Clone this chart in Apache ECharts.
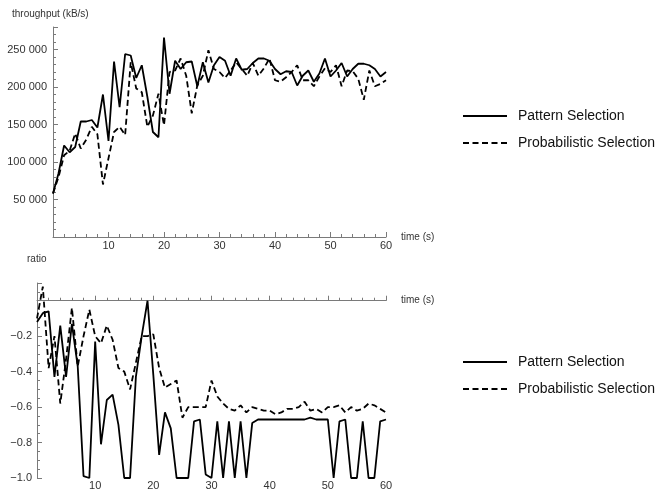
<!DOCTYPE html>
<html lang="en">
<head>
    <meta charset="UTF-8">
    <script src="https://cdn.jsdelivr.net/npm/echarts@6/dist/echarts.min.js"></script>
    <title>Throughput and ratio</title>
</head>
<body style="margin:0">

<div id="chart" style="width: 664px;height: 491px"></div>

<script type="text/javascript">
    // time axis, seconds
    var times = [0,1,2,3,4,5,6,7,8,9,10,11,12,13,14,15,16,17,18,19,20,
        21,22,23,24,25,26,27,28,29,30,31,32,33,34,35,36,37,38,39,40,
        41,42,43,44,45,46,47,48,49,50,51,52,53,54,55,56,57,58,59,60]

    var seriesNames = ['Pattern Selection', 'Probabilistic Selection']

    // throughput (kB/s)
    var patternThroughput = [58000,85000,122000,113000,120000,154000,154000,156000,146000,190000,128000,
        234000,173000,244000,242000,212000,229000,187000,140000,133000,266000,
        191000,235000,224000,233000,234000,201000,233000,206000,229000,240000,
        235000,215000,238000,223000,224000,232000,238000,238000,235000,224000,
        217000,221000,220000,202000,215000,222000,207000,218000,238000,214000,
        222000,232000,214000,224000,231000,231000,229000,224000,214000,220000]

    var probThroughput = [58000,80000,109000,115000,138000,118000,130000,147000,137000,70000,105000,
        140000,147000,136000,233000,198000,193000,147000,162000,191000,149000,
        220000,222000,238000,215000,165000,202000,215000,249000,224000,220000,
        212000,222000,233000,224000,215000,232000,215000,225000,238000,209000,
        207000,213000,220000,229000,209000,209000,201000,214000,225000,220000,
        229000,201000,222000,221000,211000,183000,222000,201000,204000,209000]

    // ratio
    var patternRatio = [-0.12,-0.07,-0.06,-0.43,-0.14,-0.43,-0.13,-0.37,-0.99,-1.0,-0.23,
        -0.81,-0.56,-0.53,-0.70,-1.0,-1.0,-0.43,-0.2,0.0,-0.42,
        -0.87,-0.63,-0.72,-1.0,-1.0,-1.0,-0.68,-0.67,-0.98,-1.0,
        -0.68,-1.0,-0.68,-1.0,-0.68,-1.0,-0.69,-0.67,-0.67,-0.67,
        -0.67,-0.67,-0.67,-0.67,-0.67,-0.67,-0.66,-0.67,-0.67,-0.67,
        -1.0,-0.68,-0.67,-1.0,-1.0,-0.68,-1.0,-1.0,-0.68,-0.67]

    var probRatio = [-0.1,0.08,-0.38,-0.2,-0.58,-0.33,-0.04,-0.37,-0.2,-0.05,-0.2,
        -0.24,-0.14,-0.22,-0.38,-0.40,-0.50,-0.35,-0.2,-0.2,-0.19,
        -0.38,-0.49,-0.47,-0.45,-0.66,-0.6,-0.6,-0.6,-0.6,-0.45,
        -0.54,-0.58,-0.61,-0.62,-0.59,-0.63,-0.6,-0.61,-0.62,-0.62,
        -0.64,-0.63,-0.61,-0.61,-0.6,-0.57,-0.62,-0.61,-0.63,-0.6,
        -0.6,-0.59,-0.63,-0.6,-0.62,-0.61,-0.58,-0.59,-0.61,-0.63]

    function pairs(ys){
        return times.map(function (t, i) { return [t, ys[i]] })
    }

    var font = 'Liberation Sans, Arial, sans-serif'
    var axisGray = '#7a7a7a'
    var textGray = '#333'

    function timeAxis(gridIndex, margin){
        return {
            type: 'value',
            gridIndex: gridIndex,
            min: 0,
            max: 60,
            interval: 10,
            name: 'time (s)',
            nameLocation: 'end',
            nameGap: 15,
            nameTextStyle: {fontSize: 10, color: textGray, fontFamily: font},
            axisLine: {lineStyle: {color: axisGray, width: 1}},
            axisTick: {inside: true, length: 5, lineStyle: {color: axisGray}},
            minorTick: {show: true, splitNumber: 5, length: 3, lineStyle: {color: axisGray}},
            splitLine: {show: false},
            axisLabel: {
                fontSize: 11, color: textGray, fontFamily: font, margin: margin,
                formatter: function (v) { return v === 0 ? '' : String(v) }
            }
        }
    }

    function legendAt(top){
        return {
            orient: 'vertical', left: 457, top: top,
            itemWidth: 44, itemHeight: 14, itemGap: 13,
            data: seriesNames,
            // hide the marker that line series put on the legend line
            itemStyle: {color: 'rgba(0,0,0,0)', borderColor: 'rgba(0,0,0,0)', borderWidth: 0},
            textStyle: {fontSize: 14, color: '#111', fontFamily: font, padding: [0, 0, 0, 6]}
        }
    }

    var myChart = echarts.init(document.getElementById('chart'));
    var option = {
        animation: false,
        backgroundColor: '#fff',
        title: [
            {text: 'throughput (kB/s)', left: 12, top: 9, padding: 0,
                textStyle: {fontSize: 10, fontWeight: 'normal', color: textGray, fontFamily: font}},
            {text: 'ratio', left: 27, top: 254, padding: 0,
                textStyle: {fontSize: 10, fontWeight: 'normal', color: textGray, fontFamily: font}}
        ],
        legend: [legendAt(104), legendAt(350)],
        grid: [
            {left: 53, right: 278, top: 27, bottom: 254},
            {left: 37, right: 278, top: 283, bottom: 6}
        ],
        xAxis: [timeAxis(0, 3), timeAxis(1, 2)],
        yAxis: [
            {
                type: 'value', gridIndex: 0, min: 0, max: 280000, interval: 50000,
                axisLine: {show: true, lineStyle: {color: axisGray}},
                axisTick: {show: true, inside: true, length: 5, lineStyle: {color: axisGray}},
                minorTick: {show: true, splitNumber: 5, length: 3, lineStyle: {color: axisGray}},
                splitLine: {show: false},
                axisLabel: {
                    fontSize: 11, color: textGray, fontFamily: font, margin: 6,
                    formatter: function (v) {
                        if (v === 0 || v % 50000 !== 0) return ''
                        var k = Math.floor(v / 1000)
                        return k + ' 000'
                    }
                }
            },
            {
                type: 'value', gridIndex: 1, min: -1.0, max: 0.1, interval: 0.2,
                axisLine: {show: true, lineStyle: {color: axisGray}},
                axisTick: {show: true, inside: true, length: 5, lineStyle: {color: axisGray}},
                minorTick: {show: true, splitNumber: 4, length: 3, lineStyle: {color: axisGray}},
                splitLine: {show: false},
                axisLabel: {
                    fontSize: 11, color: textGray, fontFamily: font, margin: 5,
                    formatter: function (v) {
                        if (v >= -0.001) return ''
                        if (Math.abs(v * 5 - Math.round(v * 5)) > 1e-6) return ''
                        return '\u2212' + Math.abs(v).toFixed(1)
                    }
                }
            }
        ],
        series: [
            {name: seriesNames[0], type: 'line', xAxisIndex: 0, yAxisIndex: 0, symbol: 'none',
                data: pairs(patternThroughput), lineStyle: {color: '#000', width: 1.8}, itemStyle: {color: '#000'}},
            {name: seriesNames[1], type: 'line', xAxisIndex: 0, yAxisIndex: 0, symbol: 'none',
                data: pairs(probThroughput), lineStyle: {color: '#000', width: 1.8, type: [6, 3.5]}, itemStyle: {color: '#000'}},
            {name: seriesNames[0], type: 'line', xAxisIndex: 1, yAxisIndex: 1, symbol: 'none',
                data: pairs(patternRatio), lineStyle: {color: '#000', width: 1.8}, itemStyle: {color: '#000'}},
            {name: seriesNames[1], type: 'line', xAxisIndex: 1, yAxisIndex: 1, symbol: 'none',
                data: pairs(probRatio), lineStyle: {color: '#000', width: 1.8, type: [6, 3.5]}, itemStyle: {color: '#000'}}
        ]
    };
    myChart.setOption(option);
</script>
</body>
</html>
